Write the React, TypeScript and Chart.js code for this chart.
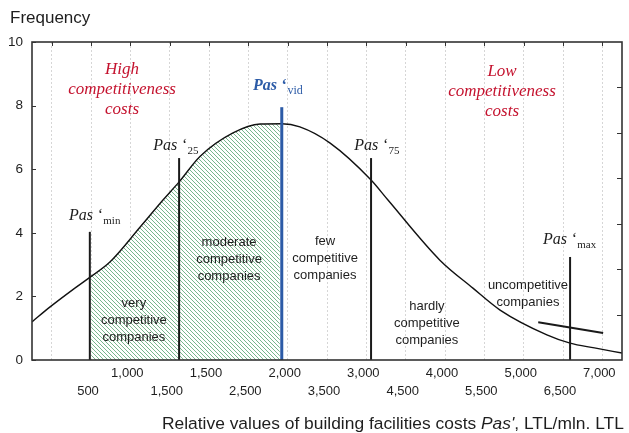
import React, { useEffect, useRef } from "react";
import { Chart, registerables } from "chart.js";

// ---------- data ----------
// x axis is in "interval units": 15 equal intervals; gridlines/ticks at 0.5, 1.5, ... 14.5
const xTickPositions = [0.5, 1.5, 2.5, 3.5, 4.5, 5.5, 6.5, 7.5, 8.5, 9.5, 10.5, 11.5, 12.5, 13.5, 14.5];
const xTickLabels = ["", "500", "1,000", "1,500", "1,500", "2,500", "2,000", "3,500", "3,000", "4,500", "4,000", "5,500", "5,000", "6,500", "7,000"];
const xTickRow = [1, 2, 1, 2, 1, 2, 1, 2, 1, 2, 1, 2, 1, 2, 1];

const curveX = [0, 0.46, 1.09, 1.47, 1.98, 2.75, 3.33, 3.74, 4.27, 5.11, 5.8, 6.35, 6.81, 7.58, 8.62, 9.05, 10.37, 11.21, 11.9, 13.09, 13.68, 14.3, 15];
const curveY = [1.2, 1.67, 2.26, 2.6, 3.08, 4.18, 5.03, 5.6, 6.4, 7.14, 7.42, 7.43, 7.33, 6.82, 5.66, 5.03, 3.14, 2.26, 1.57, 0.79, 0.53, 0.38, 0.22];

const markerNames = ["min", "25", "vid", "75", "max"];
const markerX = [1.47, 3.74, 6.35, 8.62, 13.68];
const markerTop = [4.03, 6.35, 7.95, 6.35, 3.24];

const slantX = [12.87, 14.52];
const slantY = [1.19, 0.85];

const yMin = 0;
const yMax = 10;
const yStep = 2;
const rightTickDivisions = 7;

// hatch between Pas'min and Pas'vid
const hatchFromIndex = 0;
const hatchToIndex = 2;

// ---------- annotation texts (data coordinates) ----------
const redTexts = [
  { lines: ["High", "competitiveness", "costs"], x: 2.29, y: 9.12 },
  { lines: ["Low", "competitiveness", "costs"], x: 11.95, y: 9.06 },
];
const pasLabelPos = [
  { x: 0.94, y: 4.4 },
  { x: 3.08, y: 6.6 },
  { x: 5.62, y: 8.49 },
  { x: 8.19, y: 6.6 },
  { x: 12.99, y: 3.65 },
];
const groupTexts = [
  { lines: ["very", "competitive", "companies"], x: 2.59, y: 1.79 },
  { lines: ["moderate", "competitive", "companies"], x: 5.01, y: 3.71 },
  { lines: ["few", "competitive", "companies"], x: 7.45, y: 3.74 },
  { lines: ["hardly", "competitive", "companies"], x: 10.04, y: 1.67 },
  { lines: ["uncompetitive", "companies"], x: 12.61, y: 2.33 },
];

const SANS = '"Liberation Sans", Arial, sans-serif';
const SERIF = '"Liberation Serif", "Times New Roman", serif';
const RED = "#c4122e";
const BLUE = "#2c5ba7";
const INK = "#1e1e1e";

const hatchClipPlugin = {
  id: "hatchClip",
  beforeDatasetDraw(chart: any, args: any) {
    const ds = chart.data.datasets[args.index];
    if (!ds || ds.label !== "hatch") return;
    const xs = chart.scales.x;
    const a = chart.chartArea;
    const l = xs.getPixelForValue(markerX[hatchFromIndex]) + 1.5;
    const r = xs.getPixelForValue(markerX[hatchToIndex]) - 2;
    const ctx = chart.ctx;
    ctx.save();
    ctx.beginPath();
    ctx.rect(l, a.top, r - l, a.bottom - a.top);
    ctx.clip();
  },
  afterDatasetDraw(chart: any, args: any) {
    const ds = chart.data.datasets[args.index];
    if (!ds || ds.label !== "hatch") return;
    chart.ctx.restore();
  },
};

// registered before the built-ins so its clip is active when the filler paints
Chart.register(hatchClipPlugin as any);
Chart.register(...registerables);

function makeHatch(): CanvasPattern | string {
  const c = document.createElement("canvas");
  c.width = 4;
  c.height = 4;
  const g = c.getContext("2d");
  if (!g) return "rgba(90,160,110,0.4)";
  g.fillStyle = "#ffffff";
  g.fillRect(0, 0, 4, 4);
  g.strokeStyle = "#78b68d";
  g.lineWidth = 1;
  g.beginPath();
  g.moveTo(0, 0);
  g.lineTo(4, 4);
  g.moveTo(-1, 3);
  g.lineTo(1, 5);
  g.moveTo(3, -1);
  g.lineTo(5, 1);
  g.stroke();
  return g.createPattern(c, "repeat") || "rgba(90,160,110,0.4)";
}

const framePlugin = {
  id: "frame",
  afterDatasetsDraw(chart: any) {
    const { ctx, chartArea: a, scales } = chart;
    const xs = scales.x;
    const ys = scales.y;
    ctx.save();
    ctx.strokeStyle = "#333";
    ctx.lineWidth = 1.6;
    ctx.strokeRect(a.left, a.top, a.right - a.left, a.bottom - a.top);
    ctx.lineWidth = 1;
    ctx.beginPath();
    ys.ticks.forEach((t: any) => {
      const py = Math.round(ys.getPixelForValue(t.value)) + 0.5;
      ctx.moveTo(a.left, py);
      ctx.lineTo(a.left + 4, py);
    });
    for (let k = 1; k < rightTickDivisions; k++) {
      const py = Math.round(ys.getPixelForValue((k * (yMax - yMin)) / rightTickDivisions)) + 0.5;
      ctx.moveTo(a.right, py);
      ctx.lineTo(a.right - 5, py);
    }
    xs.ticks.forEach((t: any) => {
      const px = Math.round(xs.getPixelForValue(t.value)) + 0.5;
      ctx.moveTo(px, a.top);
      ctx.lineTo(px, a.top + 4);
    });
    ctx.stroke();
    ctx.restore();
  },
  afterDraw(chart: any) {
    const { ctx, scales, chartArea: a } = chart;
    const xs = scales.x;
    const ys = scales.y;
    const X = (v: number) => xs.getPixelForValue(v);
    const Y = (v: number) => ys.getPixelForValue(v);
    ctx.save();

    ctx.fillStyle = INK;
    ctx.textBaseline = "middle";
    ctx.textAlign = "left";
    ctx.font = `17px ${SANS}`;
    ctx.fillText("Frequency", 10, 18);

    const titleParts: [string, string][] = [
      ["Relative values of building facilities costs ", `17.4px ${SANS}`],
      ["Pas'", `italic 17.4px ${SANS}`],
      [", LTL/mln. LTL", `17.4px ${SANS}`],
    ];
    let tx = 162;
    ctx.textBaseline = "alphabetic";
    titleParts.forEach(([s, f]) => {
      ctx.font = f;
      ctx.fillText(s, tx, a.bottom + 69);
      tx += ctx.measureText(s).width;
    });

    ctx.fillStyle = RED;
    ctx.textAlign = "center";
    ctx.textBaseline = "middle";
    ctx.font = `italic 17px ${SERIF}`;
    redTexts.forEach((t) => {
      t.lines.forEach((ln, i) => ctx.fillText(ln, X(t.x), Y(t.y) + i * 20));
    });

    ctx.fillStyle = INK;
    ctx.font = `13px ${SANS}`;
    groupTexts.forEach((t) => {
      t.lines.forEach((ln, i) => ctx.fillText(ln, X(t.x), Y(t.y) + i * 17));
    });

    ctx.textAlign = "left";
    ctx.textBaseline = "alphabetic";
    markerNames.forEach((name, i) => {
      const p = pasLabelPos[i];
      const isVid = name === "vid";
      ctx.fillStyle = isVid ? BLUE : INK;
      ctx.font = isVid ? `bold italic 16px ${SERIF}` : `italic 16px ${SERIF}`;
      const main = "Pas \u2018";
      const px = X(p.x);
      const py = Y(p.y);
      ctx.fillText(main, px, py);
      const w = ctx.measureText(main).width;
      ctx.font = isVid ? `12px ${SERIF}` : `11px ${SERIF}`;
      ctx.fillText(name, px + w + 1, py + 4);
    });
    ctx.restore();
  },
};

export default function App() {
  const ref = useRef<HTMLCanvasElement>(null);

  useEffect(() => {
    if (!ref.current) return;
    const curve = curveX.map((x, i) => ({ x, y: curveY[i] }));

    const markerSets = markerNames.map((name, i) => ({
      label: "marker-" + name,
      data: [
        { x: markerX[i], y: 0 },
        { x: markerX[i], y: markerTop[i] },
      ],
      borderColor: name === "vid" ? BLUE : "#1a1a1a",
      borderWidth: name === "vid" ? 3 : 2,
      pointRadius: 0,
      fill: false,
    }));

    const chart = new Chart(ref.current, {
      type: "line",
      data: {
        datasets: [
          ...markerSets,
          {
            label: "slant",
            data: slantX.map((x, i) => ({ x, y: slantY[i] })),
            borderColor: "#1a1a1a",
            borderWidth: 2,
            pointRadius: 0,
            fill: false,
          },
          {
            label: "curve",
            data: curve,
            borderColor: "#111",
            borderWidth: 1.4,
            pointRadius: 0,
            cubicInterpolationMode: "monotone",
            fill: false,
          },
          {
            label: "hatch",
            data: curve,
            borderWidth: 0,
            borderColor: "rgba(0,0,0,0)",
            backgroundColor: makeHatch(),
            pointRadius: 0,
            cubicInterpolationMode: "monotone",
            fill: "origin",
          },
        ] as any,
      },
      options: {
        responsive: false,
        animation: false,
        events: [],
        layout: { padding: { top: 42, right: 7, left: 0, bottom: 0 } },
        plugins: {
          legend: { display: false },
          tooltip: { enabled: false },
        },
        scales: {
          x: {
            type: "linear",
            position: "bottom",
            min: 0,
            max: 15,
            afterBuildTicks: (s: any) => {
              s.ticks = xTickPositions.map((v) => ({ value: v }));
            },
            afterFit: (s: any) => {
              s.height = 73;
            },
            ticks: {
              autoSkip: false,
              maxRotation: 0,
              minRotation: 0,
              padding: 4,
              labelOffset: -3,
              color: INK,
              font: { family: SANS, size: 13, lineHeight: 1.4 },
              callback: (_v: any, i: number) =>
                xTickRow[i] === 1 ? [xTickLabels[i], ""] : ["", xTickLabels[i]],
            },
            grid: { color: "#d6d6d6", lineWidth: 1, drawTicks: false },
            border: { display: false, dash: [2, 2] },
          },
          y: {
            type: "linear",
            position: "left",
            min: yMin,
            max: yMax,
            afterFit: (s: any) => {
              s.width = 32;
            },
            ticks: {
              stepSize: yStep,
              padding: 9,
              color: INK,
              font: { family: SANS, size: 13.5 },
            },
            grid: { display: false, drawTicks: false },
            border: { display: false },
          },
        },
      } as any,
      plugins: [framePlugin as any],
    });
    return () => chart.destroy();
  }, []);

  return (
    <div style={{ position: "absolute", left: 0, top: 0, width: 629, height: 433, background: "#fff" }}>
      <canvas ref={ref} width={629} height={433} style={{ display: "block", width: 629, height: 433 }} />
    </div>
  );
}
